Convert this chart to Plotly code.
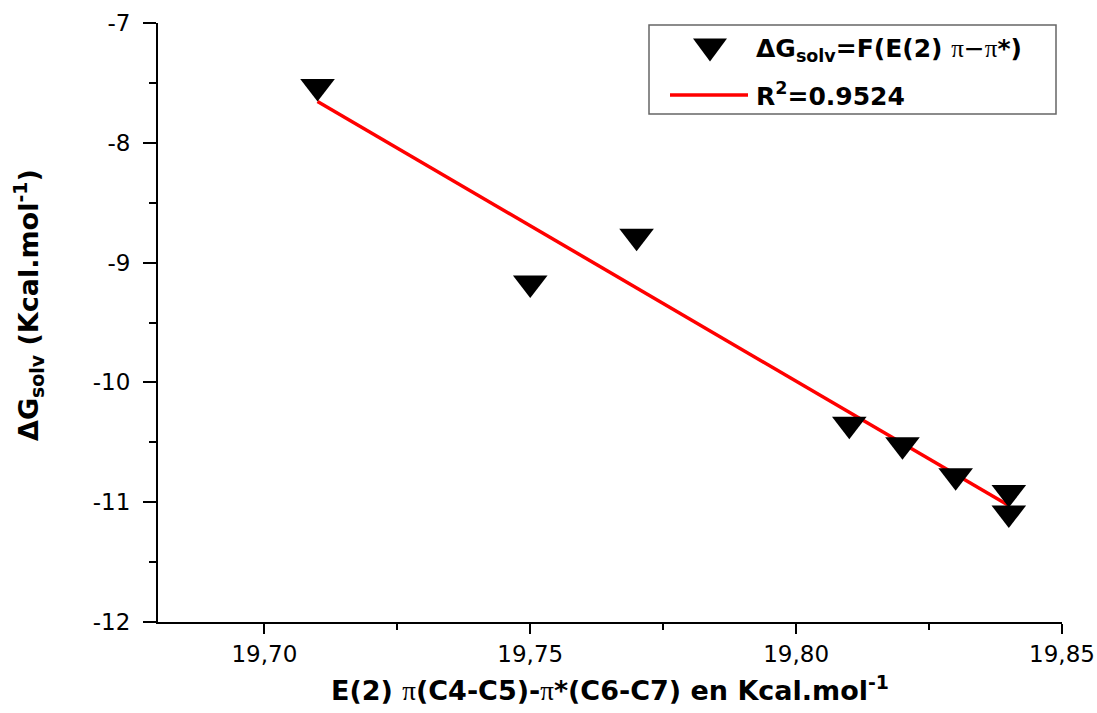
import numpy as np
import plotly.graph_objects as go

# ---- data ----
e2_values = [19.71, 19.75, 19.77, 19.81, 19.82, 19.83, 19.84, 19.84]
dg_solv = [-7.53, -9.17, -8.78, -10.35, -10.52, -10.78, -10.92, -11.09]

x_tick_vals = [19.70, 19.75, 19.80, 19.85]
x_tick_text = ["19,70", "19,75", "19,80", "19,85"]
x_minor_vals = [19.725, 19.775, 19.825]
y_tick_vals = [-12, -11, -10, -9, -8, -7]
y_tick_text = ["-12", "-11", "-10", "-9", "-8", "-7"]
y_minor_vals = [-11.5, -10.5, -9.5, -8.5, -7.5]

PI = '<span style="font-family:Liberation Serif;font-weight:normal">π</span>'
legend_marker_label = "<b>ΔG<sub>solv</sub>=F(E(2) </b>" + PI + "−" + PI + "<b>*)</b>"
legend_fit_label = "<b>R<sup>2</sup>=0.9524</b>"
x_title = "<b>E(2) </b>" + PI + "<b>(C4-C5)-</b>" + PI + "<b>*(C6-C7) en Kcal.mol<sup>-1</sup></b>"
y_title = "<b>ΔG<sub>solv</sub> (Kcal.mol<sup>-1</sup>)</b>"

# ---- linear fit from data ----
slope, intercept = np.polyfit(e2_values, dg_solv, 1)
fit_x = [min(e2_values), max(e2_values)]
fit_y = [slope * v + intercept for v in fit_x]

W, H = 1097, 713
ML, MR, MT, MB = 158, 35, 23, 91
PW, PH = W - ML - MR, H - MT - MB


def px(xp):
    return (xp - ML) / PW


def py(yp):
    return (H - MB - yp) / PH


FONT = "DejaVu Sans"

fig = go.Figure()
fig.add_trace(go.Scatter(
    x=fit_x, y=fit_y, mode="lines",
    line=dict(color="#ff0000", width=3.5),
    showlegend=False, hoverinfo="skip"))
fig.add_trace(go.Scatter(
    x=e2_values, y=dg_solv, mode="markers",
    marker=dict(symbol="triangle-down", size=30, color="black"),
    showlegend=False))

# ---- custom legend (box, samples, labels) ----
shapes = [
    dict(type="rect", xref="paper", yref="paper",
         x0=px(649), x1=px(1056), y0=py(114), y1=py(25),
         line=dict(color="#666666", width=1.5), fillcolor="white", layer="above"),
    dict(type="line", xref="paper", yref="paper",
         x0=px(670), x1=px(748), y0=py(95), y1=py(95),
         line=dict(color="#ff0000", width=3.5), layer="above"),
    dict(type="path", xref="paper", yref="paper",
         path="M {a},{b} L {c},{b} L {d},{e} Z".format(
             a=px(693), c=px(727), b=py(38.5), d=px(710), e=py(61.5)),
         line=dict(color="black", width=0), fillcolor="black", layer="above"),
]
annotations = [
    dict(xref="paper", yref="paper", x=px(754), y=py(50), xanchor="left",
         yanchor="middle", showarrow=False, text=legend_marker_label,
         font=dict(family=FONT, size=25, color="black")),
    dict(xref="paper", yref="paper", x=px(754), y=py(95), xanchor="left",
         yanchor="middle", showarrow=False, text=legend_fit_label,
         font=dict(family=FONT, size=25, color="black")),
    # y-axis title
    dict(xref="paper", yref="paper", x=px(28), y=py(305), xanchor="center",
         yanchor="middle", showarrow=False, text=y_title, textangle=-90,
         font=dict(family=FONT, size=27, color="black")),
]

axis_common = dict(
    showline=True, linewidth=2, linecolor="black", showgrid=False,
    zeroline=False, ticks="outside", tickwidth=2, tickcolor="black",
    tickfont=dict(family=FONT, size=23, color="black"), tickmode="array",
)

fig.update_layout(
    width=W, height=H,
    margin=dict(l=ML, r=MR, t=MT, b=MB, autoexpand=False),
    paper_bgcolor="white", plot_bgcolor="white",
    font=dict(family=FONT, color="black"),
    showlegend=False,
    shapes=shapes, annotations=annotations,
    xaxis=dict(
        **axis_common, range=[19.68, 19.85], tickvals=x_tick_vals,
        ticktext=x_tick_text, ticklen=10,
        minor=dict(ticks="outside", tickvals=x_minor_vals, ticklen=6,
                   tickwidth=2, tickcolor="black", showgrid=False),
        title=dict(text=x_title, standoff=16,
                   font=dict(family=FONT, size=27, color="black")),
    ),
    yaxis=dict(
        **axis_common, range=[-12, -7], tickvals=y_tick_vals,
        ticktext=y_tick_text, ticklen=13, ticklabelstandoff=8,
        minor=dict(ticks="outside", tickvals=y_minor_vals, ticklen=7,
                   tickwidth=2, tickcolor="black", showgrid=False),
    ),
)

fig.write_html("out.html")
